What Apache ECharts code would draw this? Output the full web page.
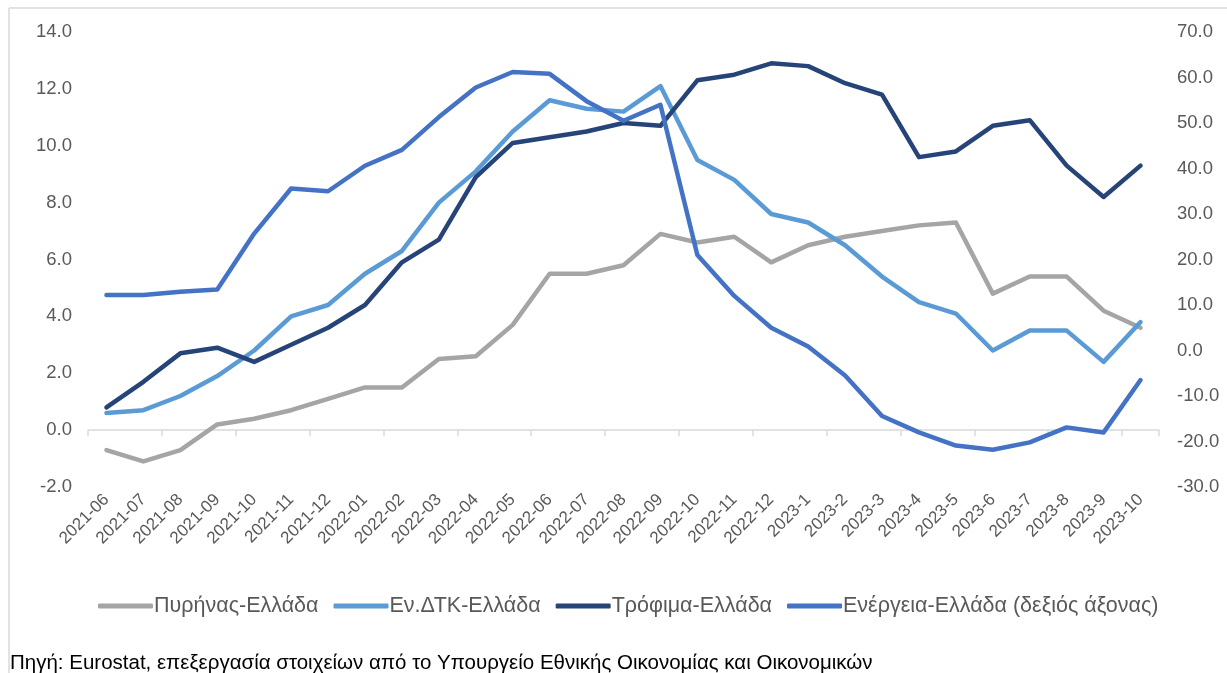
<!DOCTYPE html>
<html>
<head>
<meta charset="utf-8">
<script src="https://cdn.jsdelivr.net/npm/echarts@6/dist/echarts.min.js"></script>
<style>
  html, body { margin: 0; padding: 0; background: #fff; }
  #main { width: 1227px; height: 673px; }
</style>
</head>
<body>
<div id="main"></div>
<script>
// μήνες
var months = ['2021-06','2021-07','2021-08','2021-09','2021-10','2021-11','2021-12',
  '2022-01','2022-02','2022-03','2022-04','2022-05','2022-06','2022-07','2022-08','2022-09','2022-10','2022-11','2022-12',
  '2023-1','2023-2','2023-3','2023-4','2023-5','2023-6','2023-7','2023-8','2023-9','2023-10'];

// αριστερός άξονας
var coreGr = [-0.7,-1.1,-0.7,0.2,0.4,0.7,1.1,1.5,1.5,2.5,2.6,3.7,5.5,5.5,5.8,6.9,6.6,6.8,5.9,6.5,6.8,7.0,7.2,7.3,4.8,5.4,5.4,4.2,3.6];
var hicpGr = [0.6,0.7,1.2,1.9,2.8,4.0,4.4,5.5,6.3,8.0,9.1,10.5,11.6,11.3,11.2,12.1,9.5,8.8,7.6,7.3,6.5,5.4,4.5,4.1,2.8,3.5,3.5,2.4,3.8];
var foodGr = [0.8,1.7,2.7,2.9,2.4,3.0,3.6,4.4,5.9,6.7,8.9,10.1,10.3,10.5,10.8,10.7,12.3,12.5,12.9,12.8,12.2,11.8,9.6,9.8,10.7,10.9,9.3,8.2,9.3];
// δεξιός άξονας
var energyGr = [12.2,12.2,12.9,13.4,25.7,35.6,35.0,40.6,44.1,51.3,57.8,61.2,60.8,54.8,50.5,54.0,21.0,12.0,5.0,0.9,-5.5,-14.4,-18.0,-20.9,-21.8,-20.2,-16.9,-18.0,-6.5];

var seriesNames = ['Πυρήνας-Ελλάδα','Εν.ΔΤΚ-Ελλάδα','Τρόφιμα-Ελλάδα','Ενέργεια-Ελλάδα (δεξιός άξονας)'];
var sourceText = 'Πηγή: Eurostat, επεξεργασία στοιχείων από το Υπουργείο Εθνικής Οικονομίας και Οικονομικών';

var font = 'Liberation Sans, Arial, sans-serif';
var chart = echarts.init(document.getElementById('main'));

function lineSeries(name, data, color, yIdx) {
  return {
    name: name,
    type: 'line',
    data: data,
    yAxisIndex: yIdx,
    xAxisIndex: 0,
    symbol: 'none',
    smooth: false,
    lineStyle: { color: color, width: 4.5, cap: 'round', join: 'round' },
    itemStyle: { color: color }
  };
}

var option = {
  animation: false,
  textStyle: { fontFamily: font },
  graphic: [
    { type: 'line', shape: { x1: 9, y1: 8, x2: 9, y2: 673 }, style: { stroke: '#D9D9D9', lineWidth: 1.5 } },
    { type: 'line', shape: { x1: 9, y1: 8, x2: 1227, y2: 8 }, style: { stroke: '#D9D9D9', lineWidth: 1.5 } }
  ],
  title: {
    text: sourceText,
    left: 10,
    top: 653,
    padding: 0,
    textStyle: { fontFamily: font, fontSize: 20.5, fontWeight: 'normal', color: '#000' }
  },
  legend: {
    data: seriesNames,
    left: 93,
    top: 590,
    icon: 'roundRect',
    itemWidth: 55,
    itemHeight: 5,
    itemGap: 15,
    textStyle: { fontFamily: font, fontSize: 21.5, color: '#595959', padding: [0, 0, 0, -4] }
  },
  grid: { left: 88, right: 68, top: 32, bottom: 186, containLabel: false },
  xAxis: [
    {
      type: 'category',
      data: months,
      boundaryGap: true,
      position: 'bottom',
      axisLine: { show: false, onZero: false },
      axisTick: { show: false },
      axisLabel: { interval: 0, rotate: 45, color: '#595959', fontSize: 17, fontFamily: font, margin: 10 }
    },
    {
      type: 'category',
      data: months,
      boundaryGap: true,
      position: 'top',
      axisLine: { show: true, onZero: true, onZeroAxisIndex: 0, lineStyle: { color: '#D9D9D9', width: 1.5 } },
      axisTick: { show: true, inside: true, length: 6, lineStyle: { color: '#D9D9D9', width: 1.5 } },
      axisLabel: { show: false }
    }
  ],
  yAxis: [
    {
      type: 'value',
      min: -2, max: 14, interval: 2,
      axisLine: { show: false },
      axisTick: { show: false },
      splitLine: { show: false },
      axisLabel: { color: '#595959', fontSize: 18.5, fontFamily: font, margin: 16,
        formatter: function (v) { return v.toFixed(1); } }
    },
    {
      type: 'value',
      min: -30, max: 70, interval: 10,
      axisLine: { show: false },
      axisTick: { show: false },
      splitLine: { show: false },
      axisLabel: { color: '#595959', fontSize: 18.5, fontFamily: font, margin: 18,
        formatter: function (v) { return v.toFixed(1); } }
    }
  ],
  series: [
    lineSeries(seriesNames[0], coreGr, '#A5A5A5', 0),
    lineSeries(seriesNames[1], hicpGr, '#5B9BD5', 0),
    lineSeries(seriesNames[2], foodGr, '#264478', 0),
    lineSeries(seriesNames[3], energyGr, '#4472C4', 1)
  ]
};

chart.setOption(option);
window.addEventListener('resize', chart.resize);
</script>
</body>
</html>
